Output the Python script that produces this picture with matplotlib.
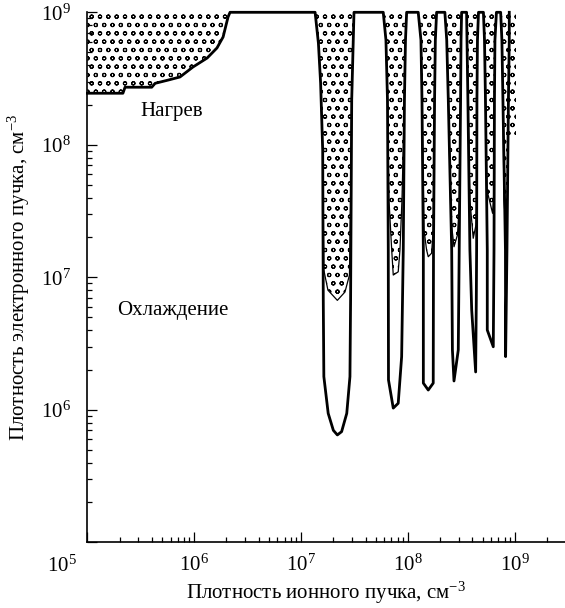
import matplotlib
matplotlib.use("Agg")
import matplotlib.pyplot as plt
from matplotlib.ticker import LogLocator, NullFormatter

plt.rcParams["font.family"] = ["Liberation Serif", "DejaVu Serif"]
plt.rcParams["mathtext.fontset"] = "custom"
plt.rcParams["mathtext.rm"] = "Liberation Serif"
plt.rcParams["mathtext.it"] = "Liberation Serif:italic"
plt.rcParams["hatch.linewidth"] = 0.8

# Heating boundary at low ion density (ion density, electron density in cm^-3)
edge_ion = [1.0e5, 2.15e5, 2.25e5, 4.0e5, 4.3e5, 5.7e5, 7.35e5, 9.7e5,
            1.32e6, 1.63e6, 1.86e6, 2.07e6, 2.16e6]
edge_e = [2.45e8, 2.45e8, 2.72e8, 2.72e8, 2.91e8, 3.08e8, 3.25e8, 3.86e8,
          4.52e8, 5.38e8, 6.51e8, 9.22e8, 1.0e9]

# Resonance dips: outer (solid) boundary
dip1_ion = [1.35e7, 1.45e7, 1.52e7, 1.59e7, 1.61e7, 1.63e7, 1.79e7, 2.0e7,
            2.18e7, 2.39e7, 2.67e7, 2.86e7, 2.90e7, 2.97e7, 3.12e7]
dip1_e = [1e9, 5.84e8, 2.93e8, 9.1e7, 6.7e6, 1.78e6, 9.4e5, 7.0e5,
          6.46e5, 6.84e5, 9.4e5, 1.78e6, 6.7e6, 2.18e8, 1e9]
dip2_ion = [5.86e7, 6.21e7, 6.42e7, 6.53e7, 6.56e7, 7.27e7, 8.09e7, 8.71e7,
            9.02e7, 9.25e7, 9.46e7, 9.70e7]
dip2_e = [1e9, 6.18e8, 2.18e8, 1.61e7, 1.68e6, 1.03e6, 1.12e6, 2.52e6,
          1.61e7, 2.18e8, 6.18e8, 1e9]
dip3_ion = [1.245e8, 1.32e8, 1.35e8, 1.39e8, 1.39e8, 1.545e8, 1.72e8, 1.73e8,
            1.77e8, 1.80e8, 1.85e8]
dip3_e = [1e9, 6.18e8, 2.18e8, 1.61e7, 1.59e6, 1.41e6, 1.59e6, 1.61e7,
          2.18e8, 6.18e8, 1e9]
dip4_ion = [2.21e8, 2.30e8, 2.38e8, 2.56e8, 2.60e8, 2.69e8, 2.95e8, 3.01e8,
            3.10e8, 3.13e8, 3.17e8]
dip4_e = [1e9, 6.18e8, 2.18e8, 1.61e7, 2.83e6, 1.65e6, 2.83e6, 1.61e7,
          2.18e8, 6.18e8, 1e9]
dip5_ion = [3.53e8, 3.56e8, 3.63e8, 3.79e8, 3.94e8, 4.29e8, 4.35e8, 4.38e8,
            4.41e8, 4.46e8, 4.56e8]
dip5_e = [1e9, 6.18e8, 2.18e8, 1.61e7, 5.66e6, 1.93e6, 6.74e6, 1.61e7,
          2.18e8, 6.18e8, 1e9]
dip6_ion = [5.07e8, 5.19e8, 5.30e8, 5.51e8, 5.51e8, 6.27e8, 6.37e8, 6.43e8,
            6.50e8, 6.71e8]
dip6_e = [1e9, 6.18e8, 2.18e8, 1.61e7, 4.0e6, 2.99e6, 1.61e7, 2.18e8,
          6.18e8, 1e9]
dip7_ion = [7.35e8, 7.55e8, 7.72e8, 8.15e8, 8.18e8, 8.42e8, 8.69e8, 8.85e8,
            8.85e8]
dip7_e = [1e9, 6.18e8, 2.18e8, 1.61e7, 2.52e6, 1.61e7, 2.18e8, 6.18e8, 1e9]

# Resonance dips: inner boundary of the shaded zone
in1_ion = [1.35e7, 1.45e7, 1.52e7, 1.59e7, 1.63e7, 1.78e7, 2.18e7, 2.57e7,
           2.83e7, 2.90e7, 2.97e7, 3.12e7]
in1_e = [1e9, 5.84e8, 2.93e8, 9.1e7, 1.13e7, 8.0e6, 6.7e6, 7.75e6,
         1.04e7, 3.83e7, 2.18e8, 1e9]
in2_ion = [5.86e7, 6.21e7, 6.42e7, 6.63e7, 7.03e7, 7.27e7, 8.09e7, 8.40e7,
           8.77e7, 9.25e7, 9.46e7, 9.70e7]
in2_e = [1e9, 6.18e8, 2.18e8, 3.83e7, 1.61e7, 1.04e7, 1.10e7, 1.61e7,
         3.83e7, 2.18e8, 6.18e8, 1e9]
in3_ion = [1.245e8, 1.32e8, 1.35e8, 1.41e8, 1.49e8, 1.545e8, 1.66e8, 1.72e8,
           1.77e8, 1.80e8, 1.85e8]
in3_e = [1e9, 6.18e8, 2.18e8, 2.28e7, 1.61e7, 1.43e7, 1.52e7, 2.28e7,
         2.18e8, 6.18e8, 1e9]
in4_ion = [2.21e8, 2.30e8, 2.38e8, 2.52e8, 2.69e8, 2.90e8, 3.03e8, 3.10e8,
           3.13e8, 3.17e8]
in4_e = [1e9, 6.18e8, 2.18e8, 2.71e7, 1.70e7, 2.09e7, 3.83e7, 2.18e8,
         6.18e8, 1e9]
in5_ion = [3.53e8, 3.56e8, 3.63e8, 3.79e8, 4.07e8, 4.32e8, 4.38e8, 4.41e8,
           4.46e8, 4.56e8]
in5_e = [1e9, 6.18e8, 2.18e8, 3.83e7, 1.97e7, 2.48e7, 3.83e7, 2.18e8,
         6.18e8, 1e9]
in6_ion = [5.07e8, 5.19e8, 5.30e8, 5.47e8, 6.18e8, 6.37e8, 6.43e8, 6.50e8,
           6.71e8]
in6_e = [1e9, 6.18e8, 2.18e8, 4.56e7, 3.04e7, 4.56e7, 2.18e8, 6.18e8, 1e9]
in7_ion = [7.35e8, 7.55e8, 7.72e8, 7.89e8, 8.18e8, 8.51e8, 8.69e8, 8.85e8,
           8.85e8]
in7_e = [1e9, 6.18e8, 2.18e8, 3.83e7, 2.57e7, 3.83e7, 2.18e8, 6.18e8, 1e9]

# Shaded strip beyond the last dip
tail_ion = [8.85e8, 8.85e8, 1.02e9, 1.02e9]
tail_e = [1e9, 1.19e8, 1.19e8, 1e9]

major_ticks = [1e5, 1e6, 1e7, 1e8, 1e9]
tick_labels = ["", "$10^{6}$", "$10^{7}$", "$10^{8}$", "$10^{9}$"]
x_limits = (1e5, 2.94e9)
y_limits = (1e5, 1e9)

outer_ion = edge_ion + dip1_ion + dip2_ion + dip3_ion + dip4_ion + dip5_ion + dip6_ion + dip7_ion
outer_e = edge_e + dip1_e + dip2_e + dip3_e + dip4_e + dip5_e + dip6_e + dip7_e
inner_ion = edge_ion + in1_ion + in2_ion + in3_ion + in4_ion + in5_ion + in6_ion + in7_ion
inner_e = edge_e + in1_e + in2_e + in3_e + in4_e + in5_e + in6_e + in7_e

W, H = 565, 608
fig = plt.figure(figsize=(W / 100, H / 100), dpi=100)
left, right, top, bottom = 87.4, 565, 12.3, 542.3
ax = fig.add_axes([left / W, 1 - bottom / H, (right - left) / W, (bottom - top) / H])
ax.set_xscale("log")
ax.set_yscale("log")
ax.set_xlim(*x_limits)
ax.set_ylim(*y_limits)

# shaded zone: between the inner boundary and the upper edge
ax.fill(inner_ion + [inner_ion[0]], inner_e + [y_limits[1]],
        facecolor="none", edgecolor="black", linewidth=0, hatch="oo")
ax.fill(tail_ion, tail_e, facecolor="none", edgecolor="black", linewidth=0, hatch="oo")

ax.plot(inner_ion, inner_e, color="black", lw=0.9, clip_on=False)
ax.plot(outer_ion, outer_e, color="black", lw=2.0, solid_joinstyle="round",
        clip_on=False)

for side in ("top", "right"):
    ax.spines[side].set_visible(False)
for side in ("left", "bottom"):
    ax.spines[side].set_linewidth(1.2)

ax.set_xticks(major_ticks)
ax.set_xticklabels(tick_labels)
ax.set_yticks(major_ticks)
ax.set_yticklabels(tick_labels)
for axis in (ax.xaxis, ax.yaxis):
    axis.set_minor_locator(LogLocator(base=10, subs=range(2, 10)))
    axis.set_minor_formatter(NullFormatter())
ax.tick_params(which="major", direction="in", length=7.5, width=0.9, labelsize=15)
ax.tick_params(which="minor", direction="in", length=3.8, width=0.9)
ax.tick_params(axis="x", pad=9)
ax.tick_params(axis="y", pad=12)

fig.text(62 / W, 1 - 566 / H, "$10^{5}$", ha="center", va="center", fontsize=15)
fig.text((left + right) / 2 / W, 1 - 593 / H, "Плотность ионного пучка, см$^{-3}$",
         ha="center", va="center", fontsize=15)
fig.text(19 / W, 1 - (top + bottom) / 2 / H, "Плотность электронного пучка, см$^{-3}$",
         ha="center", va="center", rotation=90, fontsize=15)

ax.text(6.2e5, 1.77e8, "Нагрев", ha="center", va="center", fontsize=15)
ax.text(6.3e5, 5.66e6, "Охлаждение", ha="center", va="center", fontsize=15)

fig.savefig("out.png", dpi=100)
